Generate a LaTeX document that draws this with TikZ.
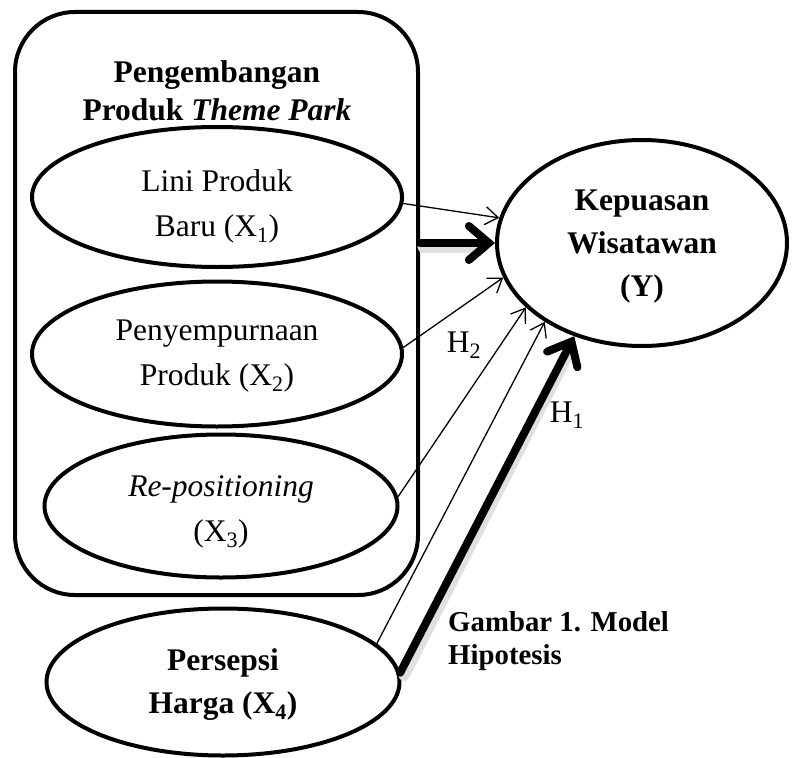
\documentclass[tikz,border=0pt]{standalone}
\usepackage{fontspec}
\setmainfont{Liberation Serif}
\usetikzlibrary{shapes.geometric,arrows.meta,calc}
\begin{document}
\begin{tikzpicture}[x=1pt,y=-1pt,
  varshape/.style={draw, line width=4pt, ellipse, inner sep=0pt},
  vartext/.style={align=center, inner sep=0pt, font=\fontsize{31.5}{45}\selectfont},
  lnkthin/.style={line width=1.3pt, -{Straight Barb[length=13pt,width=18pt]}},
  lnkbold/.style={line width=8pt, line cap=round, -{Straight Barb[length=20pt,width=34pt,line cap=round]}},
  lnkshadow/.style={line width=11pt, black!12, line cap=round}]
\useasboundingbox (0,0) rectangle (794,757);
% frame
\node[draw, line width=4pt, rounded corners=60pt, minimum width=403pt, minimum height=583pt, inner sep=0pt] (frame) at (216.5,303.5) {};
\node[align=center, inner sep=0pt, font=\fontsize{31.5}{38}\selectfont\bfseries] (head) at (217,91) {Pengembangan\\Produk \textit{Theme Park}};
% ellipses
\node[varshape, minimum width=370pt, minimum height=140pt] (x1) at (217,197) {};
\node[varshape, minimum width=370pt, minimum height=145pt] (x2) at (217,354) {};
\node[varshape, minimum width=353pt, minimum height=143pt] (x3) at (221,506) {};
\node[varshape, minimum width=353pt, minimum height=147pt] (x4) at (223,682) {};
\node[varshape, minimum width=290pt, minimum height=206pt] (y) at (642,243) {};
% texts
\node[vartext] (x1t) at ($(x1)+(0,9)$) {Lini Produk\\Baru (X\textsubscript{1})};
\node[vartext] (x2t) at ($(x2)+(0,2)$) {Penyempurnaan\\Produk (X\textsubscript{2})};
\node[vartext] (x3t) at ($(x3)+(0,6)$) {\textit{Re-positioning}\\(X\textsubscript{3})};
\node[vartext, font=\fontsize{31.5}{43}\selectfont\bfseries] (x4t) at ($(x4)+(0,3)$) {Persepsi\\Harga (X\textsubscript{4})};
\node[vartext, font=\fontsize{31.5}{43}\selectfont\bfseries] (yt) at ($(y)+(0,4)$) {Kepuasan\\Wisatawan\\(Y)};
% shadows of bold links
\draw[lnkshadow] ($(frame.east |- y.west)+(3,4)$) -- ($(y.west)+(-12,4)$);
\draw[lnkshadow] ($(x4.3)+(4,3)$) -- ($(y.234)+(-4,14)$);
% links
\draw[lnkthin] (x1.-2) -- (y.170);
\draw[lnkbold] (frame.east |- y.west) -- (y.west);
\draw[lnkthin] (x2.2) -- (y.194);
\draw[lnkthin] (x3.3) -- (y.209);
\draw[lnkthin] (x4.14) -- (y.219);
\draw[lnkbold] (x4.3) -- (y.234);
% labels
\node[font=\fontsize{31.5}{38}\selectfont, inner sep=0pt] (h2) at (464,345) {H\textsubscript{2}};
\node[font=\fontsize{31.5}{38}\selectfont, inner sep=0pt] (h1) at (567,415) {H\textsubscript{1}};
\node[anchor=west, align=left, inner sep=0pt, font=\fontsize{28.8}{33}\selectfont\bfseries] (cap) at (448,641) {Gambar 1. Model\\Hipotesis};
\end{tikzpicture}
\end{document}
